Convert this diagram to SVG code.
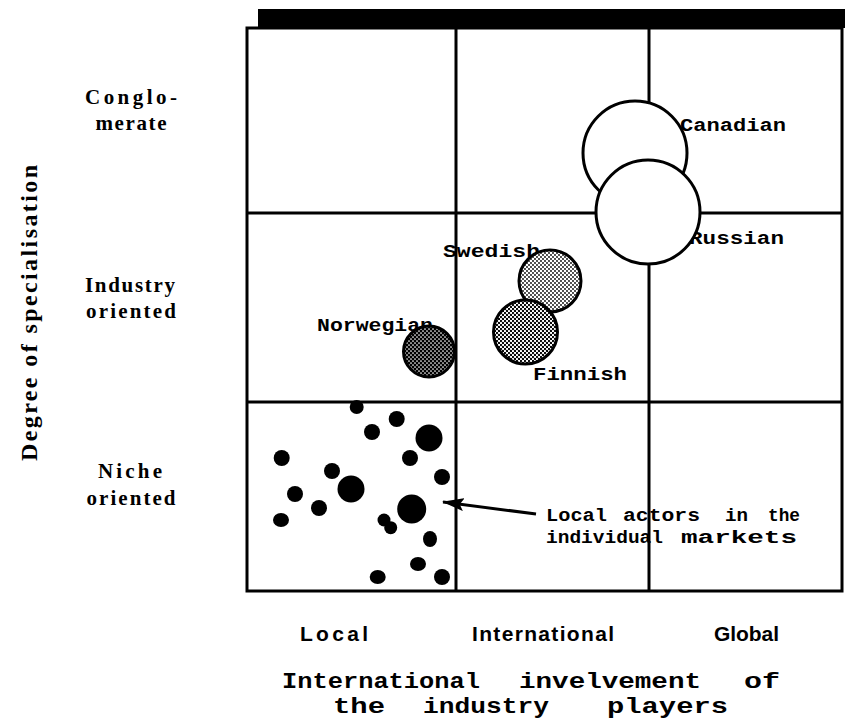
<svg xmlns="http://www.w3.org/2000/svg" width="845" height="723" viewBox="0 0 845 723">
  <style>
    .axis-title { font-family: "Liberation Serif", "DejaVu Serif", serif; font-weight: bold; fill: #000; }
    .row-label { font-family: "Liberation Serif", "DejaVu Serif", serif; font-weight: bold; font-size: 21px; fill: #000; text-anchor: middle; }
    .col-label { font-family: "Liberation Sans", Arial, sans-serif; font-weight: bold; font-size: 21px; fill: #000; }
    .type { font-family: "Liberation Mono", "Courier New", monospace; font-weight: bold; font-size: 18px; fill: #000; }
    .caption { font-family: "Liberation Mono", "Courier New", monospace; font-weight: bold; font-size: 22.5px; fill: #000; }
    .grid { stroke: #000; stroke-width: 3; fill: none; }
    .player { stroke: #000; stroke-width: 3; }
    .dot { fill: #000; }
  </style>
  <defs>
    <pattern id="stipple-light" patternUnits="userSpaceOnUse" width="4" height="4">
      <rect width="4" height="4" fill="#fff"/>
      <circle cx="1" cy="1" r="0.9" fill="#000"/>
      <circle cx="3" cy="3" r="0.9" fill="#000"/>
    </pattern>
    <pattern id="stipple-mid" patternUnits="userSpaceOnUse" width="4" height="4">
      <rect width="4" height="4" fill="#fff"/>
      <circle cx="1" cy="1" r="1.15" fill="#000"/>
      <circle cx="3" cy="3" r="1.15" fill="#000"/>
    </pattern>
    <pattern id="stipple-dark" patternUnits="userSpaceOnUse" width="4" height="4">
      <rect width="4" height="4" fill="#000"/>
      <circle cx="1" cy="1" r="0.85" fill="#fff"/>
      <circle cx="3" cy="3" r="0.85" fill="#fff"/>
    </pattern>
    <marker id="arrowhead" viewBox="0 0 22 13" refX="21" refY="6.5" markerWidth="7.3" markerHeight="4.3" markerUnits="strokeWidth" orient="auto">
      <path d="M0,0 L22,6.5 L0,13 L4,6.5 Z" fill="#000"/>
    </marker>
  </defs>

  <!-- axis titles -->
  <text class="axis-title" font-size="24" transform="translate(37,313) rotate(-90)" text-anchor="middle" textLength="296" lengthAdjust="spacing">Degree of specialisation</text>
  <g id="axis-caption">
    <text class="caption" x="282" y="688" textLength="198" lengthAdjust="spacingAndGlyphs">International</text>
    <text class="caption" x="519" y="688" textLength="182" lengthAdjust="spacingAndGlyphs">invelvement</text>
    <text class="caption" x="744" y="688" textLength="36" lengthAdjust="spacingAndGlyphs">of</text>
    <text class="caption" x="333" y="713" textLength="52" lengthAdjust="spacingAndGlyphs">the</text>
    <text class="caption" x="423" y="713" textLength="126" lengthAdjust="spacingAndGlyphs">industry</text>
    <text class="caption" x="607" y="713" textLength="121" lengthAdjust="spacingAndGlyphs">players</text>
  </g>

  <!-- row labels -->
  <g id="row-conglomerate">
    <text class="row-label" x="131" y="104" textLength="92" lengthAdjust="spacing">Conglo-</text>
    <text class="row-label" x="131" y="130" textLength="71" lengthAdjust="spacing">merate</text>
  </g>
  <g id="row-industry">
    <text class="row-label" x="130" y="292" textLength="90" lengthAdjust="spacing">Industry</text>
    <text class="row-label" x="131" y="318" textLength="90" lengthAdjust="spacing">oriented</text>
  </g>
  <g id="row-niche">
    <text class="row-label" x="130" y="478" textLength="64" lengthAdjust="spacing">Niche</text>
    <text class="row-label" x="131" y="505" textLength="89" lengthAdjust="spacing">oriented</text>
  </g>

  <!-- column labels -->
  <g id="col-local"><text class="col-label" x="300" y="641" textLength="68" lengthAdjust="spacing">Local</text></g>
  <g id="col-international"><text class="col-label" x="472" y="641" textLength="142" lengthAdjust="spacing">International</text></g>
  <g id="col-global"><text class="col-label" x="714" y="641" textLength="65" lengthAdjust="spacing">Global</text></g>

  <!-- player labels (circles overlap them) -->
  <text class="type" x="680" y="131" textLength="106" lengthAdjust="spacingAndGlyphs">Canadian</text>
  <text class="type" x="689" y="244" textLength="95" lengthAdjust="spacingAndGlyphs">Russian</text>
  <text class="type" x="443" y="257" textLength="97" lengthAdjust="spacingAndGlyphs">Swedish</text>
  <text class="type" x="317" y="331" textLength="116" lengthAdjust="spacingAndGlyphs">Norwegian</text>
  <text class="type" x="533" y="380" textLength="94" lengthAdjust="spacingAndGlyphs">Finnish</text>

  <!-- note for the local actors -->
  <g id="note-local-actors">
    <text class="type" x="546" y="521" textLength="61" lengthAdjust="spacingAndGlyphs">Local</text>
    <text class="type" x="623" y="521" textLength="77" lengthAdjust="spacingAndGlyphs">actors</text>
    <text class="type" x="725" y="521" textLength="23" lengthAdjust="spacingAndGlyphs">in</text>
    <text class="type" x="768" y="521" textLength="32" lengthAdjust="spacingAndGlyphs">the</text>
    <text class="type" x="546" y="543" textLength="117" lengthAdjust="spacingAndGlyphs">individual</text>
    <text class="type" x="681" y="543" textLength="116" lengthAdjust="spacingAndGlyphs">markets</text>
  </g>

  <!-- matrix frame with shadow bar on top -->
  <g id="matrix">
    <rect x="258" y="9" width="587" height="19" fill="#000"/>
    <rect class="grid" x="247" y="28" width="595" height="563"/>
    <line class="grid" x1="456" y1="28" x2="456" y2="591"/>
    <line class="grid" x1="649" y1="28" x2="649" y2="591"/>
    <line class="grid" x1="247" y1="213" x2="842" y2="213"/>
    <line class="grid" x1="247" y1="402" x2="842" y2="402"/>
  </g>

  <!-- industry players -->
  <g id="canadian"><circle class="player" cx="635" cy="153" r="52" fill="#fff"/></g>
  <g id="russian"><circle class="player" cx="648" cy="212" r="52" fill="#fff"/></g>
  <g id="swedish"><circle class="player" cx="550" cy="281" r="31" fill="url(#stipple-light)"/></g>
  <g id="finnish"><circle class="player" cx="525.5" cy="332" r="32" fill="url(#stipple-mid)"/></g>
  <g id="norwegian"><circle class="player" cx="429" cy="351.5" r="25.5" fill="url(#stipple-dark)"/></g>

  <!-- local actors -->
  <g id="local-actors">
    <circle class="dot" cx="356.7" cy="407" r="7"/>
    <circle class="dot" cx="396.7" cy="419" r="8"/>
    <circle class="dot" cx="372" cy="432" r="8"/>
    <circle class="dot" cx="429" cy="438" r="13.5"/>
    <circle class="dot" cx="281.7" cy="458" r="8"/>
    <circle class="dot" cx="410" cy="458" r="8"/>
    <circle class="dot" cx="332" cy="471" r="8"/>
    <circle class="dot" cx="442" cy="477" r="8"/>
    <circle class="dot" cx="351" cy="489" r="13.5"/>
    <circle class="dot" cx="295" cy="494" r="8"/>
    <circle class="dot" cx="319" cy="508" r="8"/>
    <circle class="dot" cx="411.7" cy="509" r="14.5"/>
    <ellipse class="dot" cx="281" cy="520" rx="8" ry="7"/>
    <circle class="dot" cx="384" cy="520" r="6.5"/>
    <circle class="dot" cx="390.7" cy="527.7" r="6.5"/>
    <ellipse class="dot" cx="430" cy="539" rx="7" ry="8"/>
    <ellipse class="dot" cx="418" cy="564" rx="8" ry="7"/>
    <ellipse class="dot" cx="377.7" cy="577" rx="8" ry="7"/>
    <circle class="dot" cx="442" cy="577" r="8"/>
  </g>

  <!-- connectors -->
  <g id="connectors">
    <line x1="536" y1="514" x2="443" y2="502" stroke="#000" stroke-width="3" marker-end="url(#arrowhead)"/>
  </g>
</svg>
